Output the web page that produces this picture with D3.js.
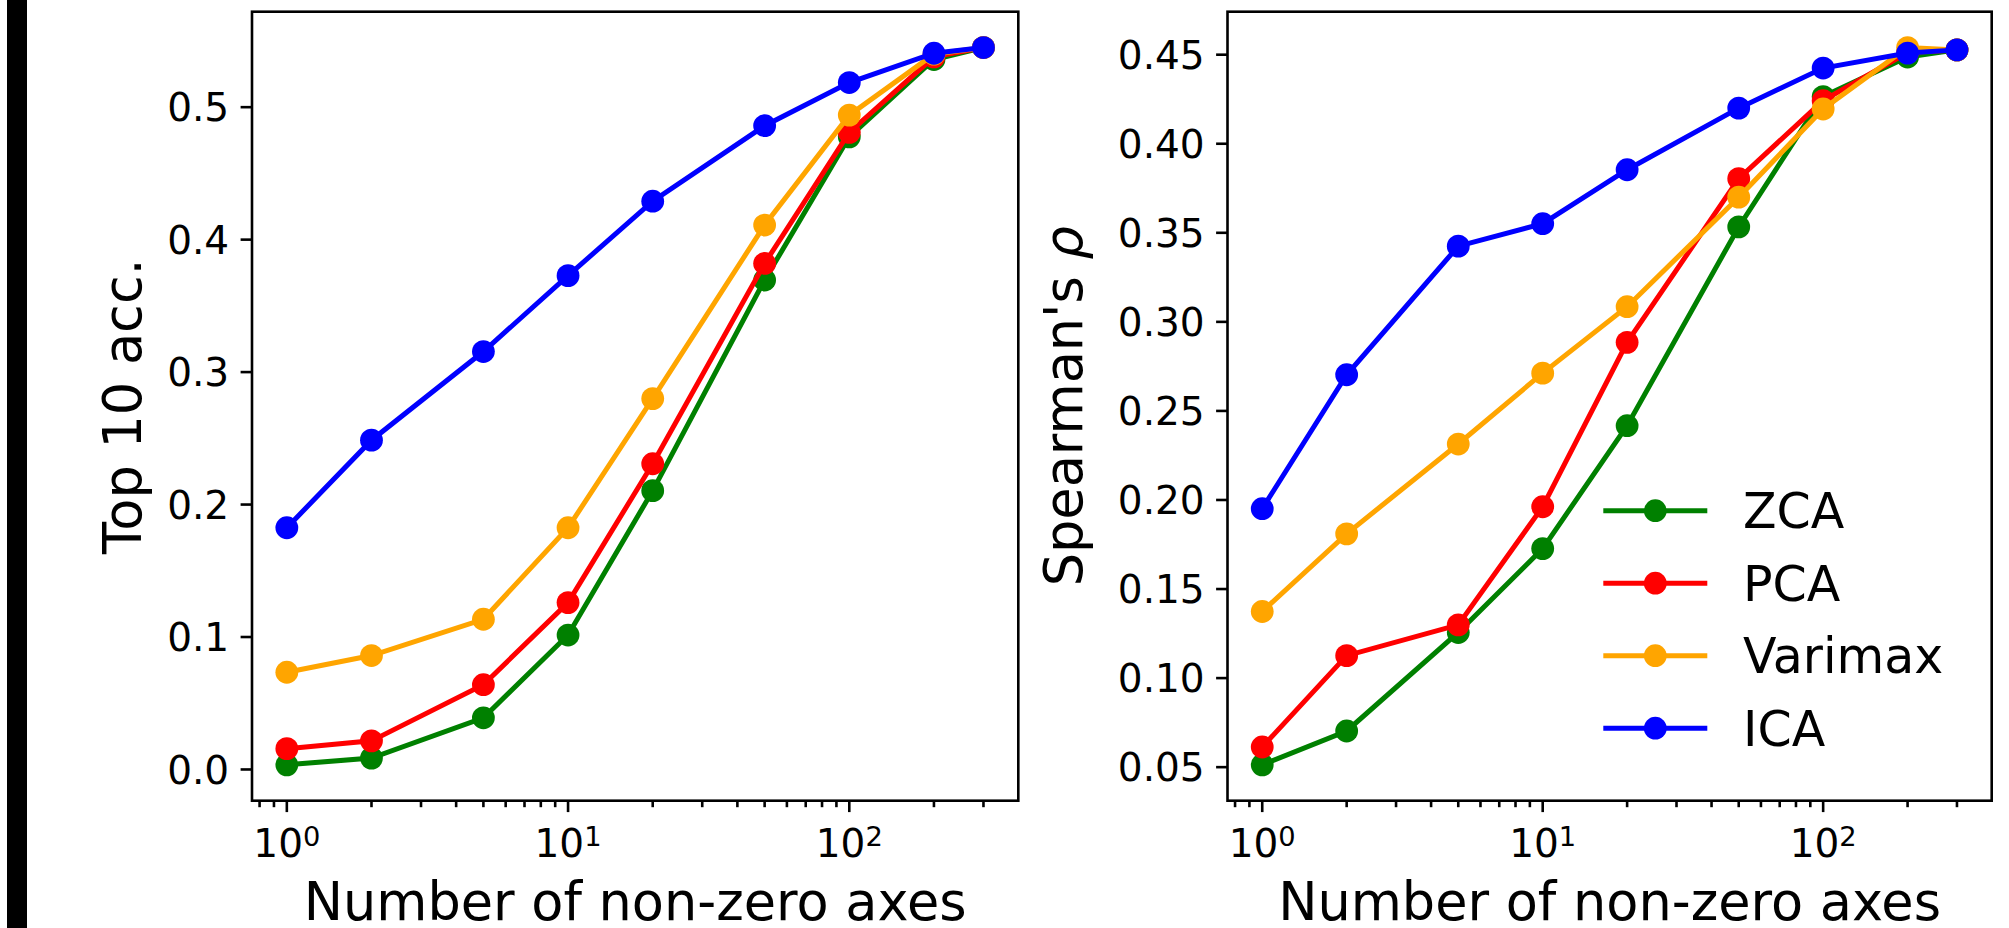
<!DOCTYPE html>
<html>
<head>
<meta charset="utf-8">
<script src="https://cdnjs.cloudflare.com/ajax/libs/d3/7.8.5/d3.min.js"></script>
<style>
  body { margin: 0; background: #fff; }
  svg text { font-family: "DejaVu Sans", sans-serif; fill: #000; }
</style>
</head>
<body>
<svg id="chart" width="2009" height="928"></svg>
<script>
// data
var axesCounts = [1, 2, 5, 10, 20, 50, 100, 200, 300];
var methods = ["ZCA", "PCA", "Varimax", "ICA"];
var methodColors = ["#008000", "#ff0000", "#ffa500", "#0000ff"];

// Top 10 accuracy (left panel)
var top10ZCA     = [0.0035, 0.0086, 0.039, 0.1015, 0.2105, 0.3695, 0.4776, 0.536, 0.545];
var top10PCA     = [0.0157, 0.0216, 0.064, 0.126, 0.2308, 0.382, 0.481, 0.538, 0.545];
var top10Varimax = [0.0734, 0.086, 0.1134, 0.1825, 0.280, 0.411, 0.494, 0.540, 0.545];
var top10ICA     = [0.1825, 0.2486, 0.3155, 0.3728, 0.429, 0.486, 0.5186, 0.5407, 0.545];

// Spearman's rho (right panel)
var rhoZCA     = [0.0513, 0.0703, 0.1256, 0.1727, 0.2417, 0.3533, 0.4265, 0.4487, 0.4527];
var rhoPCA     = [0.0613, 0.1126, 0.1299, 0.1962, 0.2885, 0.3804, 0.4242, 0.4512, 0.4527];
var rhoVarimax = [0.1374, 0.181, 0.2314, 0.2712, 0.3085, 0.370, 0.4195, 0.4540, 0.4527];
var rhoICA     = [0.1951, 0.2703, 0.3425, 0.3551, 0.3854, 0.420, 0.4425, 0.4509, 0.4527];

var leftTicks = [0.0, 0.1, 0.2, 0.3, 0.4, 0.5];
var rightTicks = [0.05, 0.10, 0.15, 0.20, 0.25, 0.30, 0.35, 0.40, 0.45];
var decadeTicks = [1, 10, 100];

var svg = d3.select("#chart");

// black strip on the far left of the picture
svg.append("rect").attr("x", 7).attr("y", 0).attr("width", 20).attr("height", 928).attr("fill", "#000");

var tickFont = 39, labelFont = 52.5, legendFont = 49;
var lw = 2.6;

function drawPanel(opts) {
  var x0 = opts.left, x1 = opts.right, y0 = 11.7, y1 = 800.7;
  var g = svg.append("g");

  // matplotlib-like 5% margins, log in x
  var lx = d3.extent(axesCounts).map(Math.log10);
  var px = 0.05 * (lx[1] - lx[0]);
  var x = d3.scaleLog()
    .domain([Math.pow(10, lx[0] - px), Math.pow(10, lx[1] + px)])
    .range([x0, x1]);

  var allv = d3.merge(opts.series);
  var ly = d3.extent(allv);
  var py = 0.05 * (ly[1] - ly[0]);
  var y = d3.scaleLinear().domain([ly[0] - py, ly[1] + py]).range([y1, y0]);

  // x minor ticks
  var minor = [];
  [0.1, 1, 10, 100].forEach(function(b) {
    for (var k = 2; k <= 9; k++) {
      var v = b * k;
      if (v >= x.domain()[0] && v <= x.domain()[1]) minor.push(v);
    }
  });
  g.selectAll(".minor").data(minor).enter().append("line")
    .attr("x1", function(d) { return x(d); }).attr("x2", function(d) { return x(d); })
    .attr("y1", y1).attr("y2", y1 + 6.5)
    .attr("stroke", "#000").attr("stroke-width", lw);

  // x major ticks
  g.selectAll(".major").data(decadeTicks).enter().append("line")
    .attr("x1", function(d) { return x(d); }).attr("x2", function(d) { return x(d); })
    .attr("y1", y1).attr("y2", y1 + 11.4)
    .attr("stroke", "#000").attr("stroke-width", lw);

  var xl = g.selectAll(".xl").data(decadeTicks).enter().append("text")
    .attr("x", function(d) { return x(d); }).attr("y", 856.7)
    .attr("text-anchor", "middle").style("font-size", tickFont + "px");
  xl.append("tspan").text("10");
  xl.append("tspan").attr("dy", -10.7).style("font-size", (tickFont * 0.7) + "px")
    .text(function(d) { return Math.round(Math.log10(d)); });

  // y ticks
  g.selectAll(".yt").data(opts.ticks).enter().append("line")
    .attr("x1", x0 - 11.4).attr("x2", x0)
    .attr("y1", function(d) { return y(d); }).attr("y2", function(d) { return y(d); })
    .attr("stroke", "#000").attr("stroke-width", lw);
  g.selectAll(".yl").data(opts.ticks).enter().append("text")
    .attr("x", x0 - 11.4 - 11.4).attr("y", function(d) { return y(d); })
    .attr("dy", "0.36em").attr("text-anchor", "end")
    .style("font-size", tickFont + "px")
    .text(function(d) { return d3.format(opts.fmt)(d); });

  // lines and markers
  var line = d3.line()
    .x(function(d, i) { return x(axesCounts[i]); })
    .y(function(d) { return y(d); });

  opts.series.forEach(function(s, k) {
    g.append("path").datum(s).attr("d", line)
      .attr("fill", "none").attr("stroke", methodColors[k]).attr("stroke-width", 5);
    g.selectAll(".pt" + k).data(s).enter().append("circle")
      .attr("cx", function(d, i) { return x(axesCounts[i]); })
      .attr("cy", function(d) { return y(d); })
      .attr("r", 11.4).attr("fill", methodColors[k]);
  });

  // frame
  g.append("rect").attr("x", x0).attr("y", y0).attr("width", x1 - x0).attr("height", y1 - y0)
    .attr("fill", "none").attr("stroke", "#000").attr("stroke-width", lw);

  // axis labels
  g.append("text").attr("x", (x0 + x1) / 2).attr("y", 920)
    .attr("text-anchor", "middle").style("font-size", labelFont + "px")
    .text("Number of non-zero axes");

  var yl = g.append("text")
    .attr("transform", "translate(" + opts.ylabelX + "," + ((y0 + y1) / 2) + ") rotate(-90)")
    .attr("text-anchor", "middle").style("font-size", labelFont + "px");
  opts.ylabel(yl);
  return { x: x, y: y };
}

drawPanel({
  left: 252, right: 1018.3,
  series: [top10ZCA, top10PCA, top10Varimax, top10ICA],
  ticks: leftTicks, fmt: ".1f", ylabelX: 140.5,
  ylabel: function(t) { t.text("Top 10 acc."); }
});

drawPanel({
  left: 1227.5, right: 1991.7,
  series: [rhoZCA, rhoPCA, rhoVarimax, rhoICA],
  ticks: rightTicks, fmt: ".2f", ylabelX: 1082,
  ylabel: function(t) {
    t.append("tspan").text("Spearman's ");
    t.append("tspan").style("font-style", "italic").text("\u03c1");
  }
});

// legend (no frame)
var leg = svg.append("g");
methods.forEach(function(m, i) {
  var cy = 510.7 + i * 72.5;
  leg.append("line").attr("x1", 1603.3).attr("x2", 1707.3).attr("y1", cy).attr("y2", cy)
    .attr("stroke", methodColors[i]).attr("stroke-width", 5);
  leg.append("circle").attr("cx", 1655.3).attr("cy", cy).attr("r", 11.4).attr("fill", methodColors[i]);
  leg.append("text").attr("x", 1743).attr("y", cy).attr("dy", "0.36em")
    .style("font-size", legendFont + "px").text(m);
});
</script>
</body>
</html>
